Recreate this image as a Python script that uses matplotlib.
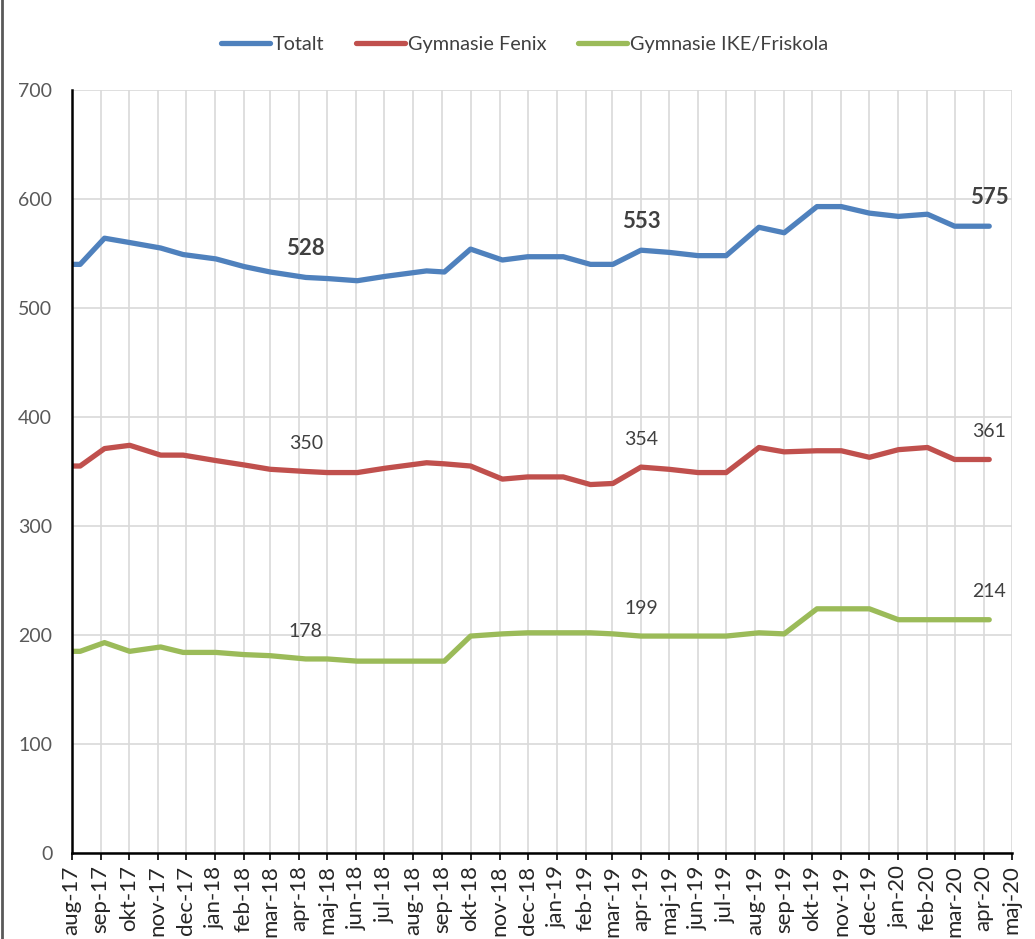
import matplotlib
matplotlib.use("Agg")
import matplotlib.pyplot as plt
import numpy as np
import pandas as pd
from matplotlib.lines import Line2D

plt.rcParams['font.family'] = ['Lato', 'DejaVu Sans']

# datum för mätpunkterna
datum = ["2017-08-01", "2017-08-10", "2017-09-05", "2017-10-02", "2017-11-04", "2017-11-28",
         "2018-01-02", "2018-02-01", "2018-03-01", "2018-04-08", "2018-05-01", "2018-06-02",
         "2018-07-02", "2018-08-15", "2018-09-03", "2018-10-01", "2018-11-04", "2018-12-01",
         "2019-01-08", "2019-02-06", "2019-03-02", "2019-04-01", "2019-05-01", "2019-06-01",
         "2019-07-01", "2019-08-05", "2019-09-01", "2019-10-06", "2019-11-01", "2019-12-01",
         "2020-01-01", "2020-02-01", "2020-03-01", "2020-04-07"]

totalt = [540, 540, 564, 560, 555, 549, 545, 538, 533, 528, 527, 525,
          529, 534, 533, 554, 544, 547, 547, 540, 540, 553, 551, 548,
          548, 574, 569, 593, 593, 587, 584, 586, 575, 575]

fenix = [355, 355, 371, 374, 365, 365, 360, 356, 352, 350, 349, 349,
         353, 358, 357, 355, 343, 345, 345, 338, 339, 354, 352, 349,
         349, 372, 368, 369, 369, 363, 370, 372, 361, 361]

ike = [185, 185, 193, 185, 189, 184, 184, 182, 181, 178, 178, 176,
       176, 176, 176, 199, 201, 202, 202, 202, 201, 199, 199, 199,
       199, 202, 201, 224, 224, 224, 214, 214, 214, 214]

etikett_index = [9, 21, 33]

manader = ["jan", "feb", "mar", "apr", "maj", "jun", "jul", "aug", "sep", "okt", "nov", "dec"]

x = pd.to_datetime(datum)

fig = plt.figure(figsize=(10.35, 9.39), dpi=100)
ax = fig.add_axes([0.0693, 0.0916, 0.9082, 0.8126])

serier = [("Totalt", totalt, "#4F81BD"),
          ("Gymnasie Fenix", fenix, "#C0504D"),
          ("Gymnasie IKE/Friskola", ike, "#9BBB59")]

for namn, varden, farg in serier:
    ax.plot(x, varden, color=farg, lw=3.8, solid_capstyle="round", solid_joinstyle="round", label=namn)

for i in etikett_index:
    ax.annotate(str(totalt[i]), (x[i], totalt[i]), xytext=(0, 21), textcoords="offset points",
                ha="center", va="center", fontsize=16, fontweight="bold", color="#404040")
    ax.annotate(str(fenix[i]), (x[i], fenix[i]), xytext=(0, 20), textcoords="offset points",
                ha="center", va="center", fontsize=14, color="#404040")
    ax.annotate(str(ike[i]), (x[i], ike[i]), xytext=(0, 20), textcoords="offset points",
                ha="center", va="center", fontsize=14, color="#404040")

tick_datum = pd.date_range("2017-08-01", "2020-05-01", freq="MS")
ax.set_xticks(tick_datum)
ax.set_xticklabels([f"{manader[d.month - 1]}-{d.year % 100:02d}" for d in tick_datum],
                   rotation=90, fontsize=16, color="#262626")
ax.set_xlim(tick_datum[0], tick_datum[-1])
ax.set_ylim(0, 700)
ax.set_yticks(np.arange(0, 701, 100))
ax.tick_params(axis="y", length=0, pad=14, labelsize=14, labelcolor="#595959")
ax.tick_params(axis="x", length=5, width=1.2, direction="out", pad=4)

ax.grid(True, color="#D9D9D9", lw=1.2)
ax.set_axisbelow(True)
for s in ["top", "right"]:
    ax.spines[s].set_visible(False)
for s in ["left", "bottom"]:
    ax.spines[s].set_linewidth(1.8)
    ax.spines[s].set_color("black")

fig.legend(loc="center", bbox_to_anchor=(0.507, 0.953), ncol=3, frameon=False,
           fontsize=14.3, handlelength=2.45, handletextpad=0.15, columnspacing=1.6,
           labelcolor="#404040")

# kantlinje till vänster
fig.lines.append(Line2D([0.002, 0.002], [0, 1], transform=fig.transFigure, color="#595959", lw=2))

fig.savefig("out.png", dpi=100)
